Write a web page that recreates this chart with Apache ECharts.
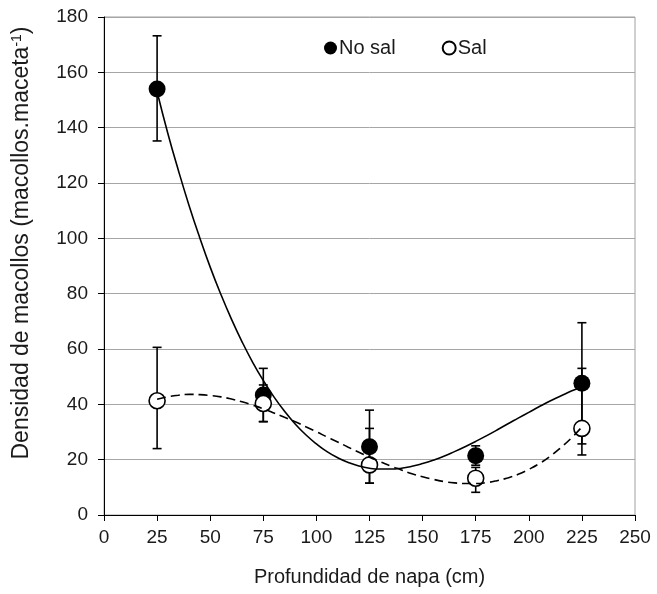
<!DOCTYPE html>
<html>
<head>
<meta charset="utf-8">
<script src="https://cdn.jsdelivr.net/npm/echarts@6/dist/echarts.min.js"></script>
<style>html,body{margin:0;padding:0;background:#fff}#c{width:657px;height:594px}</style>
</head>
<body>
<div id="c"></div>
<script>
// Depth of water table (cm)
var depths = [25, 75, 125, 175, 225];
// No sal: means and error bar ends
var noSal = [154, 43.4, 24.7, 21.4, 47.6];
var noSalLow = [135.2, 33.8, 11.5, 18.0, 25.7];
var noSalHigh = [173.2, 53.0, 37.9, 25.0, 69.5];
// Sal: means and error bar ends
var sal = [41.3, 40.3, 18.1, 13.3, 31.3];
var salLow = [24.0, 33.7, 11.5, 8.2, 21.7];
var salHigh = [60.6, 47.0, 31.3, 17.2, 53.0];
// Trend curves
var trendX = [25,30,35,40,45,50,55,60,65,70,75,80,85,90,95,100,105,110,115,120,125,130,135,140,145,150,155,160,165,170,175,180,185,190,195,200,205,210,215,220,225];
var noSalTrend = [153,138.1,124.6,112,100.4,89.6,79.8,70.8,62.6,55.2,48.6,42.7,37.5,32.9,29,25.7,22.9,20.7,19,17.7,16.9,16.6,16.6,16.9,17.6,18.6,19.8,21.2,22.9,24.7,26.6,28.6,30.7,32.9,35,37.1,39.2,41.2,43,44.8,46.3];
var salTrend = [41.8,42.7,43.3,43.6,43.5,43.2,42.7,41.9,40.9,39.7,38.4,36.9,35.3,33.7,31.9,30.1,28.2,26.4,24.5,22.7,20.9,19.3,17.7,16.3,14.9,13.8,12.9,12.1,11.6,11.4,11.4,11.7,12.4,13.4,14.7,16.5,18.6,21.2,24.3,27.8,31.8];
// Axis ticks
var xTicks = {min: 0, max: 250, step: 25};
var yTicks = {min: 0, max: 180, step: 20};

function pairs(xs, ys) { return xs.map(function (x, i) { return [x, ys[i]]; }); }
function bars(xs, lo, hi) { return xs.map(function (x, i) { return [x, lo[i], hi[i]]; }); }

var FONT = '"Liberation Sans", Arial, sans-serif';
var TXT = '#1a1a1a';

function errRender(params, api) {
  var x = api.value(0);
  var pLo = api.coord([x, api.value(1)]);
  var pHi = api.coord([x, api.value(2)]);
  var w = 4.5;
  var st = {stroke: '#000', lineWidth: 1.6};
  return {
    type: 'group',
    children: [
      {type: 'line', shape: {x1: pLo[0], y1: pLo[1], x2: pHi[0], y2: pHi[1]}, style: st},
      {type: 'line', shape: {x1: pLo[0] - w, y1: pLo[1], x2: pLo[0] + w, y2: pLo[1]}, style: st},
      {type: 'line', shape: {x1: pHi[0] - w, y1: pHi[1], x2: pHi[0] + w, y2: pHi[1]}, style: st}
    ]
  };
}

var chart = echarts.init(document.getElementById('c'), null, {renderer: 'canvas'});
chart.setOption({
  animation: false,
  backgroundColor: '#fff',
  textStyle: {fontFamily: FONT},
  grid: {left: 104, right: 22, top: 17, bottom: 79, show: true, borderColor: '#a0a0a0', borderWidth: 1},
  legend: {
    left: 319, top: 33, itemWidth: 13, itemHeight: 13, itemGap: 46,
    textStyle: {fontFamily: FONT, fontSize: 20, color: TXT, padding: [0, 0, 0, -3]},
    data: [{name: 'No sal', icon: 'circle'}, {name: 'Sal', icon: 'circle'}]
  },
  xAxis: {
    type: 'value', min: xTicks.min, max: xTicks.max, interval: xTicks.step,
    name: 'Profundidad de napa (cm)', nameLocation: 'middle', nameGap: 52,
    nameTextStyle: {fontFamily: FONT, fontSize: 20, color: TXT},
    axisLine: {lineStyle: {color: '#000', width: 1}},
    axisTick: {show: true, length: 6, lineStyle: {color: '#000'}},
    axisLabel: {fontFamily: FONT, fontSize: 19, color: TXT, margin: 13},
    splitLine: {show: false}
  },
  yAxis: {
    type: 'value', min: yTicks.min, max: yTicks.max, interval: yTicks.step,
    name: 'Densidad de macollos (macollos.maceta{sup|-1})', nameLocation: 'middle', nameGap: 70,
    nameTextStyle: {fontFamily: FONT, fontSize: 23, color: TXT, padding: [0, 0, 0, 46],
      rich: {sup: {fontSize: 14, verticalAlign: 'top', padding: [0, 0, 10, 0], color: TXT}}},
    axisLine: {show: true, lineStyle: {color: '#000', width: 1}},
    axisTick: {show: true, length: 6, lineStyle: {color: '#000'}},
    axisLabel: {fontFamily: FONT, fontSize: 19, color: TXT, margin: 16},
    splitLine: {show: true, lineStyle: {color: '#a6a6a6', width: 1}}
  },
  series: [
    {name: 'errNoSal', type: 'custom', renderItem: errRender, data: bars(depths, noSalLow, noSalHigh), z: 2, silent: true},
    {name: 'errSal', type: 'custom', renderItem: errRender, data: bars(depths, salLow, salHigh), z: 2, silent: true},
    {name: 'No sal', type: 'scatter', data: pairs(depths, noSal), symbol: 'circle', symbolSize: 17,
     itemStyle: {color: '#000', opacity: 1}, z: 3},
    {name: 'Sal', type: 'scatter', data: pairs(depths, sal), symbol: 'circle', symbolSize: 16,
     itemStyle: {color: '#fff', borderColor: '#000', borderWidth: 1.6, opacity: 1}, z: 4},
    {name: 'trendNoSal', type: 'line', data: pairs(trendX, noSalTrend), showSymbol: false, symbol: 'none', smooth: true,
     lineStyle: {color: '#000', width: 1.6, type: 'solid'}, z: 5, silent: true},
    {name: 'trendSal', type: 'line', data: pairs(trendX, salTrend), showSymbol: false, symbol: 'none', smooth: true,
     lineStyle: {color: '#000', width: 1.6, type: [9, 5]}, z: 5, silent: true}
  ]
});
</script>
</body>
</html>
